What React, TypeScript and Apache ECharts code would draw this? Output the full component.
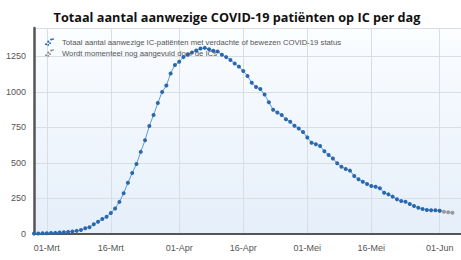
import React, { useEffect, useRef } from "react";
import * as echarts from "echarts";

const monthNames = ["Feb", "Mrt", "Apr", "Mei", "Jun"];
const dates: string[] = [];
{
  const daysIn = [29, 31, 30, 31, 30];
  let m = 0, d = 27;
  for (let i = 0; i < 101; i++) {
    dates.push(String(d).padStart(2, "0") + "-" + monthNames[m]);
    d++;
    if (d > daysIn[m]) { d = 1; m++; }
  }
}

const tickLabels = ["01-Mrt", "16-Mrt", "01-Apr", "16-Apr", "01-Mei", "16-Mei", "01-Jun"];

// Feb 27 .. Jun 1
const icPatients = [
  3, 4, 5, 6, 7, 8, 10, 12, 15, 18, 22, 28, 40, 48, 68, 86, 105, 122, 148, 180,
  226, 287, 360, 430, 493, 578, 660, 760, 838, 922, 1000, 1045, 1130, 1190, 1212, 1245, 1262, 1278, 1292, 1305,
  1310, 1300, 1290, 1285, 1262, 1245, 1225, 1200, 1178, 1148, 1112, 1065, 1035, 1020, 982, 928, 875, 855, 838, 808,
  790, 762, 742, 718, 680, 642, 632, 620, 582, 556, 532, 498, 474, 458, 446, 408, 385, 368, 352, 338,
  333, 322, 291, 279, 263, 244, 232, 227, 211, 197, 185, 176, 169, 167, 167, 164,
];
// Jun 1 .. Jun 4 (still being completed)
const pendingStart = 95;
const pending = [164, 157, 153, 150];

const seriesNames = [
  "Totaal aantal aanwezige IC-patiënten met verdachte of bewezen COVID-19 status",
  "Wordt momenteel nog aangevuld door de ICs",
];

const yTicks = [0, 250, 500, 750, 1000, 1250];

function dot(cx: number, cy: number, r: number) {
  return `M${cx - r} ${cy}A${r} ${r} 0 1 0 ${cx + r} ${cy}A${r} ${r} 0 1 0 ${cx - r} ${cy}Z`;
}
const legendIcon =
  "path://" +
  [dot(1.5, 8.5, 1.5), dot(4.5, 5, 1.5), dot(7, 7, 1.3), dot(8.5, 2, 1.5), dot(11, 1.5, 1.3), dot(4.5, 9.5, 1.2)].join("");

export default function App() {
  const ref = useRef<HTMLDivElement>(null);
  useEffect(() => {
    document.body.style.margin = "0";
    const chart = echarts.init(ref.current!, undefined, { renderer: "svg" });
    const pendingData = dates.map((_, i) =>
      i >= pendingStart && i < pendingStart + pending.length ? pending[i - pendingStart] : null
    );
    chart.setOption({
      animation: false,
      title: {
        text: "Totaal aantal aanwezige COVID-19 patiënten op IC per dag",
        left: 232,
        textAlign: "center",
        top: 5,
        textStyle: { fontFamily: "Open Sans", fontWeight: "bold", fontSize: 12.7, color: "#111" },
      },
      legend: {
        data: [
          { name: seriesNames[0], icon: legendIcon, itemStyle: { color: "#2a68ad", borderWidth: 0 } },
          { name: seriesNames[1], icon: legendIcon, itemStyle: { color: "#8a8a8a", borderWidth: 0 } },
        ],
        orient: "vertical",
        left: 40,
        top: 33,
        itemGap: 3,
        itemWidth: 9,
        itemHeight: 8,
        textStyle: { fontFamily: "Liberation Sans", fontSize: 7.7, color: "#555", padding: [0, 0, 0, 3] },
      },
      grid: {
        left: 34,
        top: 28,
        right: -9,
        bottom: 26,
        show: true,
        borderWidth: 0,
        backgroundColor: new echarts.graphic.LinearGradient(0, 0, 0, 1, [
          { offset: 0, color: "#fbfdff" },
          { offset: 1, color: "#e5effa" },
        ]),
      },
      xAxis: {
        type: "category",
        data: dates,
        boundaryGap: false,
        axisLine: { lineStyle: { color: "#555", width: 2 } },
        axisTick: { show: false },
        axisLabel: {
          interval: (i: number, v: string) => tickLabels.includes(v),
          color: "#555",
          fontSize: 9,
          fontFamily: "Liberation Sans",
          margin: 9,
        },
        splitLine: {
          show: true,
          interval: (i: number, v: string) => tickLabels.includes(v),
          lineStyle: { color: "#d9dee5", width: 1 },
        },
      },
      yAxis: {
        type: "value",
        min: 0,
        max: 1450,
        interval: 250,
        axisLine: { show: true, lineStyle: { color: "#555", width: 2.5 } },
        axisTick: { show: false },
        axisLabel: {
          color: "#555",
          fontSize: 9,
          fontFamily: "Liberation Sans",
          margin: 8,
          formatter: (v: number) => (yTicks.includes(v) ? String(v) : ""),
        },
        splitLine: { lineStyle: { color: "#d9dee5", width: 1 } },
      },
      series: [
        {
          name: seriesNames[1],
          type: "line",
          data: pendingData,
          symbol: "circle",
          symbolSize: 4,
          showSymbol: true,
          showAllSymbol: true,
          itemStyle: { color: "#9a9a9a" },
          lineStyle: { color: "#aaa", width: 1 },
          z: 2,
        },
        {
          name: seriesNames[0],
          type: "line",
          data: icPatients,
          symbol: "circle",
          symbolSize: 4,
          showSymbol: true,
          showAllSymbol: true,
          itemStyle: { color: "#2a68ad" },
          lineStyle: { color: "#5b9bd5", width: 1 },
          z: 3,
        },
      ],
    });
    return () => chart.dispose();
  }, []);
  return <div ref={ref} style={{ width: 461, height: 260 }} />;
}
